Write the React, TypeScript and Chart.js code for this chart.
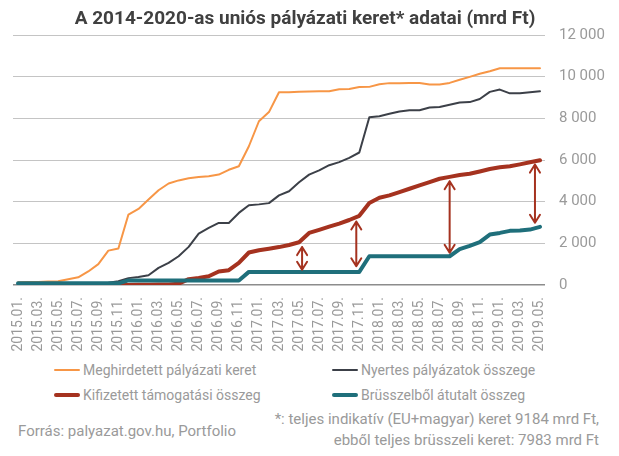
import React, { useEffect, useRef } from "react";
import { Chart, registerables } from "chart.js";

Chart.register(...registerables);

const months = [
  "2015.01.", "2015.02.", "2015.03.", "2015.04.", "2015.05.", "2015.06.", "2015.07.", "2015.08.", "2015.09.", "2015.10.", "2015.11.", "2015.12.",
  "2016.01.", "2016.02.", "2016.03.", "2016.04.", "2016.05.", "2016.06.", "2016.07.", "2016.08.", "2016.09.", "2016.10.", "2016.11.", "2016.12.",
  "2017.01.", "2017.02.", "2017.03.", "2017.04.", "2017.05.", "2017.06.", "2017.07.", "2017.08.", "2017.09.", "2017.10.", "2017.11.", "2017.12.",
  "2018.01.", "2018.02.", "2018.03.", "2018.04.", "2018.05.", "2018.06.", "2018.07.", "2018.08.", "2018.09.", "2018.10.", "2018.11.", "2018.12.",
  "2019.01.", "2019.02.", "2019.03.", "2019.04.", "2019.05.",
];

const meghirdetett = [
  130, 140, 150, 165, 180, 280, 370, 650, 1000, 1650, 1750, 3380,
  3650, 4100, 4550, 4870, 5020, 5120, 5180, 5220, 5300, 5530, 5700, 6660,
  7860, 8300, 9250, 9250, 9280, 9290, 9300, 9300, 9400, 9410, 9500, 9510,
  9640, 9690, 9690, 9700, 9700, 9620, 9620, 9700, 9850, 9990, 10140, 10260,
  10400, 10400, 10400, 10400, 10400,
];

const nyertes = [
  20, 20, 25, 25, 30, 35, 40, 50, 70, 110, 180, 330,
  380, 470, 820, 1060, 1380, 1830, 2470, 2740, 2980, 2980, 3460, 3830,
  3870, 3930, 4300, 4500, 4930, 5300, 5500, 5750, 5900, 6100, 6360, 8050,
  8100, 8220, 8330, 8390, 8390, 8520, 8540, 8650, 8760, 8780, 8930, 9270,
  9380, 9200, 9200, 9250, 9300,
];

const kifizetett = [
  null, null, null, null, null, null, null, null, null, null, 0, 5,
  10, 15, 20, 30, 60, 280, 340, 420, 650, 710, 1060, 1560,
  1670, 1740, 1820, 1920, 2050, 2500, 2650, 2800, 2950, 3120, 3320, 3940,
  4190, 4300, 4460, 4620, 4780, 4940, 5100, 5190, 5280, 5340, 5450, 5570,
  5650, 5700, 5790, 5890, 5990,
];

const brusszel = [
  80, 80, 80, 80, 80, 80, 80, 80, 80, 80, 80, 220,
  220, 220, 220, 220, 220, 220, 220, 220, 220, 220, 220, 630,
  630, 630, 630, 630, 630, 630, 630, 630, 630, 630, 630, 1380,
  1380, 1380, 1380, 1380, 1380, 1380, 1380, 1380, 1720, 1880, 2060, 2420,
  2500, 2600, 2620, 2660, 2790,
];

// double-headed arrows: position (category index) and the values they span
const arrowAt = [28.3, 33.7, 43, 51.5];
const arrowTop = [1820, 3050, 4980, 5780];
const arrowBottom = [730, 900, 1545, 2985];

const yTicks = [0, 2000, 4000, 6000, 8000, 10000, 12000];

const seriesNames = [
  "Meghirdetett pályázati keret",
  "Nyertes pályázatok összege",
  "Kifizetett támogatási összeg",
  "Brüsszelből átutalt összeg",
];

const C_ORANGE = "#f79646";
const C_GRAY = "#3c4048";
const C_RED = "#a5321f";
const C_TEAL = "#1f6f7b";
const TEXT_GRAY = "#9a9a9a";
const FONT = "Roboto, 'Noto Sans', sans-serif";

const fmt = (v: number) => String(v).replace(/\B(?=(\d{3})+(?!\d))/g, " ");

const arrowPlugin = {
  id: "arrows",
  afterDatasetsDraw(chart: any) {
    const { ctx, scales } = chart;
    const xs = scales.x;
    const ys = scales.y;
    ctx.save();
    ctx.strokeStyle = C_RED;
    ctx.lineWidth = 2;
    ctx.lineCap = "round";
    ctx.lineJoin = "round";
    for (let i = 0; i < arrowAt.length; i++) {
      const x = xs.getPixelForValue(arrowAt[i]);
      const y1 = ys.getPixelForValue(arrowTop[i]);
      const y2 = ys.getPixelForValue(arrowBottom[i]);
      const hw = 5;
      const hh = 8;
      ctx.beginPath();
      ctx.moveTo(x, y1);
      ctx.lineTo(x, y2);
      ctx.moveTo(x - hw, y1 + hh);
      ctx.lineTo(x, y1);
      ctx.lineTo(x + hw, y1 + hh);
      ctx.moveTo(x - hw, y2 - hh);
      ctx.lineTo(x, y2);
      ctx.lineTo(x + hw, y2 - hh);
      ctx.stroke();
    }
    ctx.restore();
  },
};

function LegendItem({ x, y, color, width, label }: any) {
  return (
    <div style={{ position: "absolute", left: x, top: y - 9, height: 18, display: "flex", alignItems: "center" }}>
      <div style={{ width: 26, height: width, background: color, borderRadius: width / 2, marginRight: 3 }} />
      <span style={{ fontSize: 14, color: TEXT_GRAY, lineHeight: "18px", whiteSpace: "nowrap" }}>{label}</span>
    </div>
  );
}

export default function App() {
  const ref = useRef<HTMLCanvasElement | null>(null);

  useEffect(() => {
    if (!ref.current) return;
    const chart = new Chart(ref.current, {
      type: "line",
      data: {
        labels: months,
        datasets: [
          { label: seriesNames[0], data: meghirdetett, borderColor: C_ORANGE, borderWidth: 2, order: 3 },
          { label: seriesNames[1], data: nyertes, borderColor: C_GRAY, borderWidth: 2, order: 2 },
          { label: seriesNames[2], data: kifizetett, borderColor: C_RED, borderWidth: 4, order: 1 },
          { label: seriesNames[3], data: brusszel, borderColor: C_TEAL, borderWidth: 4, order: 0 },
        ] as any,
      },
      options: {
        responsive: false,
        animation: false,
        events: [],
        layout: { padding: { left: 13, top: 35, right: 0, bottom: 0 } },
        elements: {
          point: { radius: 0 },
          line: { tension: 0, borderJoinStyle: "round", borderCapStyle: "round", fill: false },
        },
        plugins: {
          legend: { display: false },
          title: { display: false },
          tooltip: { enabled: false },
        },
        scales: {
          x: {
            type: "category",
            offset: true,
            grid: { display: false, drawTicks: false },
            border: { display: false },
            ticks: {
              autoSkip: false,
              minRotation: 90,
              maxRotation: 90,
              padding: 12,
              color: TEXT_GRAY,
              font: { family: FONT, size: 14 },
              callback: (_v: any, i: number) => (i % 2 === 0 ? months[i] : ""),
            },
            afterFit: (s: any) => {
              s.height = 75;
            },
          },
          y: {
            position: "right",
            min: 0,
            max: 12000,
            afterBuildTicks: (s: any) => {
              s.ticks = yTicks.map((v) => ({ value: v }));
            },
            grid: {
              drawTicks: false,
              color: (c: any) => (c.tick && c.tick.value === 0 ? "#8c8c8c" : "#c4c4c4"),
              lineWidth: (c: any) => (c.tick && c.tick.value === 0 ? 1.5 : 1),
            },
            border: { display: false },
            ticks: {
              padding: 14,
              color: TEXT_GRAY,
              font: { family: FONT, size: 15 },
              callback: (v: any) => fmt(Number(v)),
            },
            afterFit: (s: any) => {
              s.width = 74;
            },
          },
        },
      },
      plugins: [arrowPlugin],
    } as any);
    return () => chart.destroy();
  }, []);

  return (
    <div style={{ position: "fixed", left: 0, top: 0, width: 619, height: 456, background: "#fff", fontFamily: FONT, overflow: "hidden" }}>
      <canvas ref={ref} width={619} height={360} style={{ position: "absolute", left: 0, top: 0, width: 619, height: 360 }} />
      <div
        style={{
          position: "absolute",
          left: 0,
          top: 6,
          width: 610,
          textAlign: "center",
          fontSize: 19,
          fontWeight: 700,
          color: "#404040",
          lineHeight: "24px",
          whiteSpace: "nowrap",
        }}
      >
        A 2014-2020-as uniós pályázati keret* adatai (mrd Ft)
      </div>
      <LegendItem x={54} y={370} color={C_ORANGE} width={2} label={seriesNames[0]} />
      <LegendItem x={332} y={370} color={C_GRAY} width={2} label={seriesNames[1]} />
      <LegendItem x={54} y={395} color={C_RED} width={4} label={seriesNames[2]} />
      <LegendItem x={332} y={395} color={C_TEAL} width={4} label={seriesNames[3]} />
      <div style={{ position: "absolute", left: 18, top: 431 - 9, lineHeight: "18px", fontSize: 15, color: TEXT_GRAY, whiteSpace: "nowrap" }}>
        Forrás: palyazat.gov.hu, Portfolio
      </div>
      <div style={{ position: "absolute", right: 20, top: 419 - 10, lineHeight: "21px", fontSize: 15, color: TEXT_GRAY, textAlign: "right", whiteSpace: "nowrap" }}>
        *: teljes indikatív (EU+magyar) keret 9184 mrd Ft,
        <br />
        ebből teljes brüsszeli keret: 7983 mrd Ft
      </div>
    </div>
  );
}
